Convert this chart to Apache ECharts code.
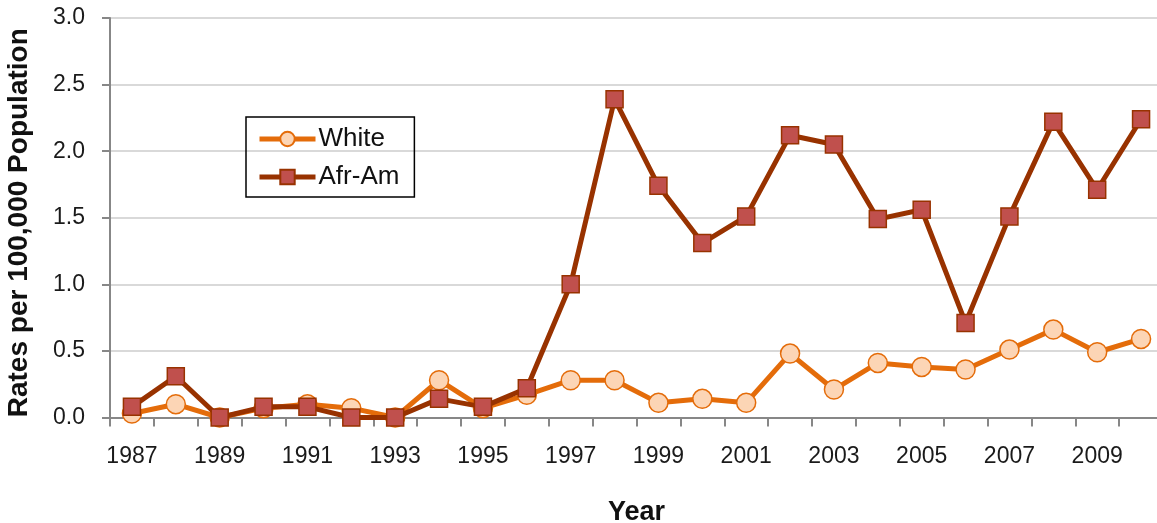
<!DOCTYPE html>
<html lang="en">
	<head>
		<meta charset="UTF-8">
		<title>Rates per 100,000 Population</title>
		<script src="https://cdn.jsdelivr.net/npm/echarts@6/dist/echarts.min.js"></script>
		<style>
			body {
				margin: 0;
			}
			#main {
				width: 1157px;
				height: 523px;
			}
		</style>
	</head>

	<body>
		<div id="main"></div>
	</body>

	<script>
		// data
		let years = ['1987', '1988', '1989', '1990', '1991', '1992', '1993', '1994', '1995', '1996', '1997', '1998',
			'1999', '2000', '2001', '2002', '2003', '2004', '2005', '2006', '2007', '2008', '2009', '2010'];
		let white = [0.03, 0.10, 0.00, 0.07, 0.10, 0.07, 0.00, 0.28, 0.07, 0.17, 0.28, 0.28,
			0.11, 0.14, 0.11, 0.48, 0.21, 0.41, 0.38, 0.36, 0.51, 0.66, 0.49, 0.59];
		let afrAm = [0.08, 0.31, 0.00, 0.08, 0.08, 0.00, 0.00, 0.14, 0.08, 0.22, 1.00, 2.39,
			1.74, 1.31, 1.51, 2.12, 2.05, 1.49, 1.56, 0.71, 1.51, 2.22, 1.71, 2.24];
		let yTicks = [0, 0.5, 1.0, 1.5, 2.0, 2.5, 3.0];

		let sans = "'Liberation Sans', Arial, sans-serif";

		let option = {
			animation: false,
			backgroundColor: '#fff',
			grid: {
				left: 110,
				top: 18,
				width: 1053,
				bottom: 105.5,
				containLabel: false,
				outerBoundsMode: 'none'
			},
			legend: {
				orient: 'vertical',
				left: 246,
				top: 117,
				padding: [9, 15, 7, 11],
				itemWidth: 56,
				itemHeight: 18,
				itemGap: 12,
				borderColor: '#000',
				borderWidth: 1.5,
				lineStyle: { width: 5 },
				textStyle: {
					fontFamily: sans,
					fontSize: 26,
					lineHeight: 26,
					color: '#111',
					padding: [0, 0, 0, -2]
				},
				data: ['White', 'Afr-Am']
			},
			xAxis: {
				type: 'category',
				data: years,
				boundaryGap: true,
				name: 'Year',
				nameLocation: 'middle',
				nameGap: 82,
				nameTextStyle: {
					fontFamily: sans,
					fontSize: 27,
					fontWeight: 'bold',
					color: '#111'
				},
				axisLine: {
					lineStyle: { color: '#878787', width: 2 }
				},
				axisTick: {
					show: true,
					length: 9,
					interval: 0,
					lineStyle: { color: '#878787', width: 2 }
				},
				axisLabel: {
					interval: 1,
					margin: 28,
					fontFamily: sans,
					fontSize: 23,
					color: '#1a1a1a'
				}
			},
			yAxis: {
				type: 'value',
				min: yTicks[0],
				max: yTicks[yTicks.length - 1],
				interval: 0.5,
				name: 'Rates per 100,000 Population',
				nameLocation: 'middle',
				nameGap: 77,
				nameTextStyle: {
					fontFamily: sans,
					fontSize: 28,
					fontWeight: 'bold',
					color: '#111',
					padding: [0, 10, 0, 0]
				},
				axisLine: {
					show: true,
					lineStyle: { color: '#878787', width: 2 }
				},
				axisTick: {
					show: true,
					length: 8,
					lineStyle: { color: '#878787', width: 2 }
				},
				splitLine: {
					lineStyle: { color: '#d9d9d9', width: 2 }
				},
				axisLabel: {
					margin: 25,
					fontFamily: sans,
					fontSize: 23,
					color: '#1a1a1a',
					formatter: (v) => v.toFixed(1)
				}
			},
			series: [{
				name: 'White',
				type: 'line',
				data: white,
				symbol: 'circle',
				symbolSize: 19,
				lineStyle: { color: '#e46c0a', width: 5 },
				itemStyle: { color: '#fcd5b5', borderColor: '#e46c0a', borderWidth: 1.5 },
				z: 2
			}, {
				name: 'Afr-Am',
				type: 'line',
				data: afrAm,
				symbol: 'rect',
				symbolSize: 17,
				lineStyle: { color: '#983200', width: 5 },
				itemStyle: { color: '#c0504d', borderColor: '#983200', borderWidth: 1.5 },
				z: 3
			}]
		};

		let echart = echarts.init(document.getElementById('main'));
		echart.setOption(option);
	</script>
</html>
